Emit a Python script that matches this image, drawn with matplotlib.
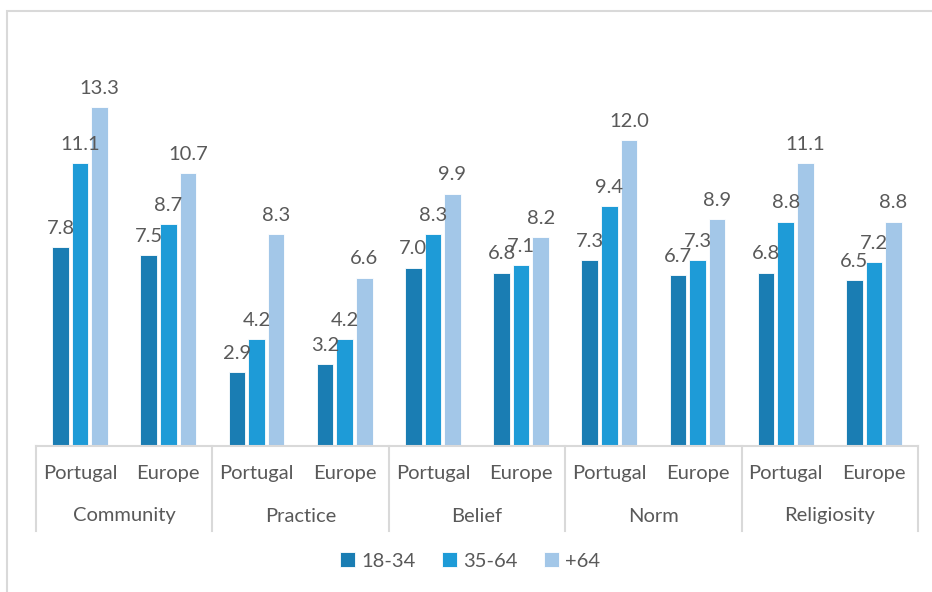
import matplotlib.pyplot as plt
from matplotlib.patches import Rectangle
from matplotlib.lines import Line2D
import matplotlib.transforms as mtransforms
import numpy as np

plt.rcParams['font.family'] = ['Lato', 'DejaVu Sans']

# --- data ---
groups = ["Community", "Practice", "Belief", "Norm", "Religiosity"]
regions = ["Portugal", "Europe"]
series = ["18-34", "35-64", "+64"]
young = [7.8, 7.5, 2.9, 3.2, 7.0, 6.8, 7.3, 6.7, 6.8, 6.5]
middle = [11.1, 8.7, 4.2, 4.2, 8.3, 7.1, 9.4, 7.3, 8.8, 7.2]
old = [13.3, 10.7, 8.3, 6.6, 9.9, 8.2, 12.0, 8.9, 11.1, 8.8]

colors = ["#1a7db3", "#1e9bd7", "#a3c7e8"]
text_col = "#595959"
line_col = "#d9d9d9"
fs = 14.5

W, H = 932, 592
fig = plt.figure(figsize=(W / 100, H / 100), dpi=100)
ax = fig.add_axes([36 / W, 1 - 446 / H, (918 - 36) / W, (446 - 63.5) / H])

x = np.arange(len(young))
bw = 0.19
step = 0.222
for i, (vals, c, name) in enumerate(zip([young, middle, old], colors, series)):
    pos = x + (i - 1) * step
    ax.bar(pos, vals, width=bw, color=c, edgecolor="white", linewidth=0.6, label=name)
    for p, v in zip(pos, vals):
        ax.text(p, v + 0.4, f"{v:.1f}", ha="center", va="bottom",
                fontsize=fs, color=text_col)

ax.set_xlim(-0.5, len(young) - 0.5)
ax.set_ylim(0, 15)
ax.set_yticks([])
ax.set_xticks([])
for s in ["top", "right", "left"]:
    ax.spines[s].set_visible(False)
ax.spines["bottom"].set_color(line_col)
ax.spines["bottom"].set_linewidth(1.5)

# multi-level category axis
trans = mtransforms.blended_transform_factory(ax.transData, fig.transFigure)
y_sub = 1 - 474 / H
y_grp = 1 - 516 / H
y_line_top = 1 - 446 / H
y_line_bot = 1 - 531 / H
for k in range(len(young)):
    ax.text(x[k], y_sub, regions[k % 2], transform=trans, ha="center", va="center",
            fontsize=fs, color=text_col)
for g, name in enumerate(groups):
    ax.text(2 * g + 0.5, y_grp, name, transform=trans, ha="center", va="center",
            fontsize=fs, color=text_col)
for b in range(len(groups) + 1):
    xb = 2 * b - 0.5
    fig.add_artist(Line2D([xb, xb], [y_line_top, y_line_bot], transform=trans,
                          color=line_col, linewidth=1.5))

fig.legend(loc="center", bbox_to_anchor=(470 / W, 1 - 561 / H), ncol=3,
           frameon=False, fontsize=fs, labelcolor=text_col,
           handlelength=0.75, handleheight=0.75, handletextpad=0.3, columnspacing=1.3)

# outer chart border
fig.add_artist(Rectangle((7 / W, -0.1), 1.2, 1 - 11 / H + 0.1, transform=fig.transFigure,
                         fill=False, edgecolor=line_col, linewidth=1.5))

fig.savefig("out.png", dpi=100)
